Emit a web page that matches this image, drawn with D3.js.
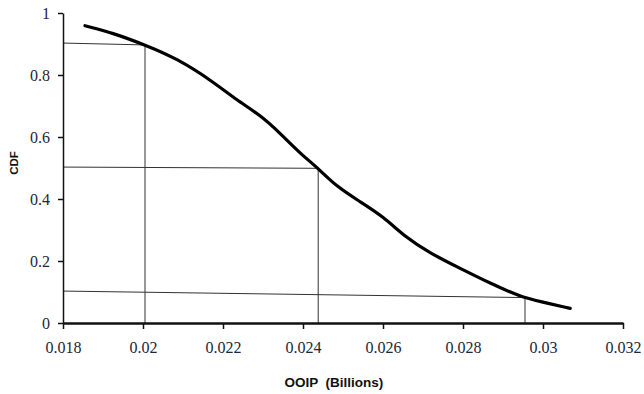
<!DOCTYPE html>
<html>
<head>
<script src="https://d3js.org/d3.v7.min.js"></script>
<style>
  body { margin: 0; background: #fff; }
  .tick text { font-family: 'Liberation Serif', serif; font-size: 16px; fill: #1e2638; }
  .title { font-family: 'Liberation Sans', sans-serif; font-weight: bold; fill: #111; }
</style>
</head>
<body>
<svg id="chart" width="644" height="394"></svg>
<script>
// curve: OOIP (billions) vs CDF
var ooip = [0.01855, 0.01926, 0.02005, 0.02084, 0.02176, 0.02234, 0.02293, 0.02343,
            0.02393, 0.02438, 0.02484, 0.02543, 0.02601, 0.02655, 0.02718, 0.02793,
            0.02868, 0.02943, 0.02993, 0.03068];
var cdf = [0.959, 0.935, 0.897, 0.854, 0.778, 0.719, 0.671, 0.612,
           0.547, 0.499, 0.440, 0.391, 0.343, 0.278, 0.225, 0.176,
           0.128, 0.085, 0.069, 0.047];

// guide lines: [x0, y0, x1, y1]
var guides = [
  [0.018, 0.903, 0.02005, 0.897],
  [0.02005, 0.897, 0.02005, 0],
  [0.018, 0.503, 0.02438, 0.499],
  [0.02438, 0.499, 0.02438, 0],
  [0.018, 0.103, 0.02955, 0.082],
  [0.02955, 0.082, 0.02955, 0]
];

var xTicks = [0.018, 0.02, 0.022, 0.024, 0.026, 0.028, 0.03, 0.032];
var yTicks = [0, 0.2, 0.4, 0.6, 0.8, 1];

var svg = d3.select("#chart");
var x = d3.scaleLinear().domain([0.018, 0.032]).range([63, 623]);
var y = d3.scaleLinear().domain([0, 1]).range([323, 13]);

// guide lines
svg.selectAll("line.guide")
   .data(guides)
   .enter().append("line")
   .attr("class", "guide")
   .attr("x1", d => x(d[0])).attr("y1", d => y(d[1]))
   .attr("x2", d => x(d[2])).attr("y2", d => y(d[3]))
   .attr("stroke", "#333")
   .attr("stroke-width", 1);

// axes
var xAxis = svg.append("g")
   .attr("transform", "translate(0,323)")
   .call(d3.axisBottom(x).tickValues(xTicks).tickSize(6).tickSizeOuter(0)
          .tickFormat(d => String(+d.toFixed(3))));
xAxis.select(".domain").attr("stroke", "#111").attr("stroke-width", 2.5);
xAxis.selectAll(".tick line").attr("stroke", "#111").attr("stroke-width", 1.5);
xAxis.selectAll(".tick text").attr("dy", "1.3em");

var yAxis = svg.append("g")
   .attr("transform", "translate(63,0)")
   .call(d3.axisLeft(y).tickValues(yTicks).tickSize(5).tickSizeOuter(0)
          .tickFormat(d => String(+d.toFixed(1))));
yAxis.select(".domain").attr("stroke", "#111").attr("stroke-width", 1.5);
yAxis.selectAll(".tick line").attr("stroke", "#111").attr("stroke-width", 1.5);
yAxis.selectAll(".tick text").attr("x", -13);

// curve
var pts = ooip.map((v, i) => [v, cdf[i]]);
svg.append("path")
   .datum(pts)
   .attr("fill", "none")
   .attr("stroke", "#000")
   .attr("stroke-width", 3.2)
   .attr("stroke-linecap", "round")
   .attr("d", d3.line().x(d => x(d[0])).y(d => y(d[1])).curve(d3.curveBasis));

// titles
svg.append("text")
   .attr("class", "title")
   .attr("transform", "translate(18,163) rotate(-90)")
   .attr("text-anchor", "middle")
   .style("font-size", "11.5px")
   .text("CDF");

svg.append("text")
   .attr("class", "title")
   .attr("x", 334).attr("y", 387)
   .attr("text-anchor", "middle")
   .style("font-size", "13.5px")
   .attr("xml:space", "preserve")
   .text("OOIP  (Billions)");
</script>
</body>
</html>
